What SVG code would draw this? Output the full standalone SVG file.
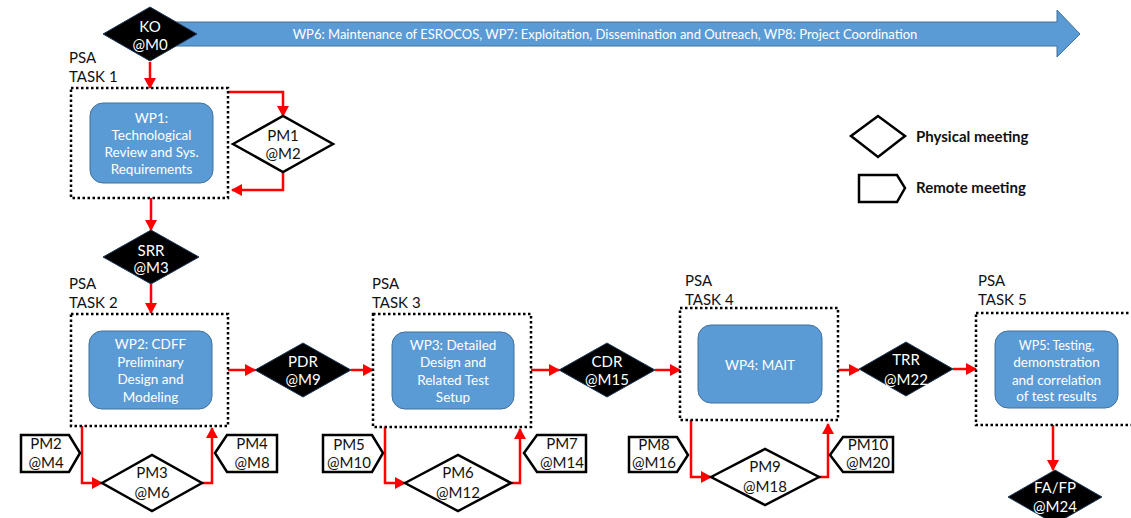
<svg xmlns="http://www.w3.org/2000/svg" width="1131" height="518" viewBox="0 0 1131 518">
<style>
text{font-family:Lato,"Open Sans","Liberation Sans",sans-serif;text-anchor:middle}
.wp{fill:#5B9BD5;stroke:#41719C;stroke-width:1}
.wt{fill:#fff;font-size:13.5px}
.dk{fill:#000;stroke:#1f3a5a;stroke-width:1}
.dt{fill:#fff;font-size:15px}
.pm{fill:#fff;stroke:#000;stroke-width:2.5}
.pt{fill:#111;font-size:15px}
.task{fill:none;stroke:#000;stroke-width:2.5;stroke-dasharray:2.5 2.5}
.lbl{fill:#111;font-size:15px;text-anchor:start}
.leg{fill:#111;font-size:15px;font-weight:bold;text-anchor:start}
.c{fill:none;stroke:#FF0000;stroke-width:2.5;marker-end:url(#ah)}
</style>
<defs>
<marker id="ah" markerUnits="userSpaceOnUse" markerWidth="11" markerHeight="12" refX="10" refY="6" orient="auto">
<path d="M0,0 L11,6 L0,12 z" fill="#FF0000"/>
</marker>
</defs>
<rect width="1131" height="518" fill="#fff"/>
<g id="wp678">
<polygon class="wp" points="175,22 1057,22 1057,10 1080,34 1057,57 1057,46 175,46"/>
<text x="605" y="38.5" fill="#fff" style="font-size:13px">WP6: Maintenance of ESROCOS, WP7: Exploitation, Dissemination and Outreach, WP8: Project Coordination</text>
</g>
<g id="connectors">
<path class="c" d="M150,62 V88"/>
<path class="c" d="M228,92 H283 V116"/>
<path class="c" d="M283,172 V190 H232"/>
<path class="c" d="M151,198 V230"/>
<path class="c" d="M151,284 V313"/>
<path class="c" d="M228,370 H255"/>
<path class="c" d="M351,370 H373"/>
<path class="c" d="M82,426 V483 H102"/>
<path class="c" d="M202,483 H212 V428"/>
<path class="c" d="M531,370 H559"/>
<path class="c" d="M385,427 V483 H405"/>
<path class="c" d="M511,483 H520 V429"/>
<path class="c" d="M655,370 H680"/>
<path class="c" d="M838,370 H859"/>
<path class="c" d="M691,420 V477 H711"/>
<path class="c" d="M819,477 H828 V424"/>
<path class="c" d="M953,369 H976"/>
<path class="c" d="M1053,425 V470"/>
</g>
<g id="ko">
<polygon class="dk" points="103,34 150,7 197,34 150,61"/>
<text class="dt" x="150" y="32">KO</text>
<text class="dt" x="150" y="50">@M0</text>
</g>
<g id="task1">
<text class="lbl" x="69" y="63">PSA</text>
<text class="lbl" x="69" y="82">TASK 1</text>
<rect class="task" x="71" y="88" width="157" height="110"/>
</g>
<g id="wp1">
<rect class="wp" x="90" y="103" width="123" height="80" rx="13"/>
<text class="wt" x="151.5" y="123">WP1:</text>
<text class="wt" x="151.5" y="140">Technological</text>
<text class="wt" x="151.5" y="157">Review and Sys.</text>
<text class="wt" x="151.5" y="174">Requirements</text>
</g>
<g id="pm1">
<polygon class="pm" points="233,144 283,116 333,144 283,172"/>
<text class="pt" x="283" y="141">PM1</text>
<text class="pt" x="283" y="159">@M2</text>
</g>
<g id="srr">
<polygon class="dk" points="103,257 151,230 199,257 151,284"/>
<text class="dt" x="151" y="256">SRR</text>
<text class="dt" x="151" y="273">@M3</text>
</g>
<g id="task2">
<text class="lbl" x="69" y="289">PSA</text>
<text class="lbl" x="69" y="308">TASK 2</text>
<rect class="task" x="71" y="314" width="157" height="112"/>
</g>
<g id="wp2">
<rect class="wp" x="89" y="331" width="123" height="78" rx="13"/>
<text class="wt" x="150.5" y="349">WP2: CDFF</text>
<text class="wt" x="150.5" y="367">Preliminary</text>
<text class="wt" x="150.5" y="384">Design and</text>
<text class="wt" x="150.5" y="402">Modeling</text>
</g>
<g id="pdr">
<polygon class="dk" points="255,370 303,343 351,370 303,397"/>
<text class="dt" x="303" y="367">PDR</text>
<text class="dt" x="303" y="385">@M9</text>
</g>
<g id="pm2">
<polygon class="pm" points="21,435 69,435 80,453 69,472 21,472"/>
<text class="pt" x="46" y="449">PM2</text>
<text class="pt" x="46" y="468">@M4</text>
</g>
<g id="pm3">
<polygon class="pm" points="102,483 152,455 202,483 152,511"/>
<text class="pt" x="152" y="478">PM3</text>
<text class="pt" x="152" y="498">@M6</text>
</g>
<g id="pm4">
<polygon class="pm" points="215,453 227,435 277,435 277,472 227,472"/>
<text class="pt" x="252" y="449">PM4</text>
<text class="pt" x="252" y="468">@M8</text>
</g>
<g id="task3">
<text class="lbl" x="372" y="289">PSA</text>
<text class="lbl" x="372" y="308">TASK 3</text>
<rect class="task" x="373" y="314" width="158" height="113"/>
</g>
<g id="wp3">
<rect class="wp" x="392" y="332" width="122" height="77" rx="13"/>
<text class="wt" x="453" y="350">WP3: Detailed</text>
<text class="wt" x="453" y="367">Design and</text>
<text class="wt" x="453" y="385">Related Test</text>
<text class="wt" x="453" y="402">Setup</text>
</g>
<g id="cdr">
<polygon class="dk" points="559,370 607,343 655,370 607,397"/>
<text class="dt" x="607" y="367">CDR</text>
<text class="dt" x="607" y="385">@M15</text>
</g>
<g id="pm5">
<polygon class="pm" points="323,435 372,435 383,453 372,472 323,472"/>
<text class="pt" x="349" y="450">PM5</text>
<text class="pt" x="349" y="468">@M10</text>
</g>
<g id="pm6">
<polygon class="pm" points="405,483 458,455 511,483 458,511"/>
<text class="pt" x="458" y="478">PM6</text>
<text class="pt" x="458" y="498">@M12</text>
</g>
<g id="pm7">
<polygon class="pm" points="524,453 537,435 586,435 586,472 537,472"/>
<text class="pt" x="562" y="449">PM7</text>
<text class="pt" x="562" y="468">@M14</text>
</g>
<g id="task4">
<text class="lbl" x="685" y="286">PSA</text>
<text class="lbl" x="685" y="305">TASK 4</text>
<rect class="task" x="680" y="308" width="158" height="112"/>
</g>
<g id="wp4">
<rect class="wp" x="698" y="325" width="124" height="78" rx="13"/>
<text class="wt" x="760" y="370">WP4: MAIT</text>
</g>
<g id="trr">
<polygon class="dk" points="859,369 906,342 953,369 906,396"/>
<text class="dt" x="906" y="365">TRR</text>
<text class="dt" x="906" y="385">@M22</text>
</g>
<g id="pm8">
<polygon class="pm" points="629,437 677,437 688,455 677,472 629,472"/>
<text class="pt" x="654" y="450">PM8</text>
<text class="pt" x="654" y="468">@M16</text>
</g>
<g id="pm9">
<polygon class="pm" points="711,477 765,449 819,477 765,505"/>
<text class="pt" x="765" y="472">PM9</text>
<text class="pt" x="765" y="492">@M18</text>
</g>
<g id="pm10">
<polygon class="pm" points="830,455 843,437 893,437 893,472 843,472"/>
<text class="pt" x="868" y="450">PM10</text>
<text class="pt" x="868" y="468">@M20</text>
</g>
<g id="task5">
<text class="lbl" x="978" y="286">PSA</text>
<text class="lbl" x="978" y="305">TASK 5</text>
<rect class="task" x="976" y="313" width="160" height="112"/>
</g>
<g id="wp5">
<rect class="wp" x="995" y="331" width="123" height="77" rx="13"/>
<text class="wt" x="1056.5" y="350" style="font-size:12.5px">WP5: Testing,</text>
<text class="wt" x="1056.5" y="367">demonstration</text>
<text class="wt" x="1056.5" y="385">and correlation</text>
<text class="wt" x="1056.5" y="401">of test results</text>
</g>
<g id="fafp">
<polygon class="dk" points="1008,497 1055,470 1102,497 1055,524"/>
<text class="dt" x="1055" y="493">FA/FP</text>
<text class="dt" x="1055" y="512">@M24</text>
</g>
<g id="legend">
<polygon class="pm" points="851,136 878,116 905,136 878,157"/>
<text class="leg" x="916" y="142">Physical meeting</text>
<polygon class="pm" points="859,175 897,175 905,188 897,202 859,202"/>
<text class="leg" x="916" y="193">Remote meeting</text>
</g>
</svg>
